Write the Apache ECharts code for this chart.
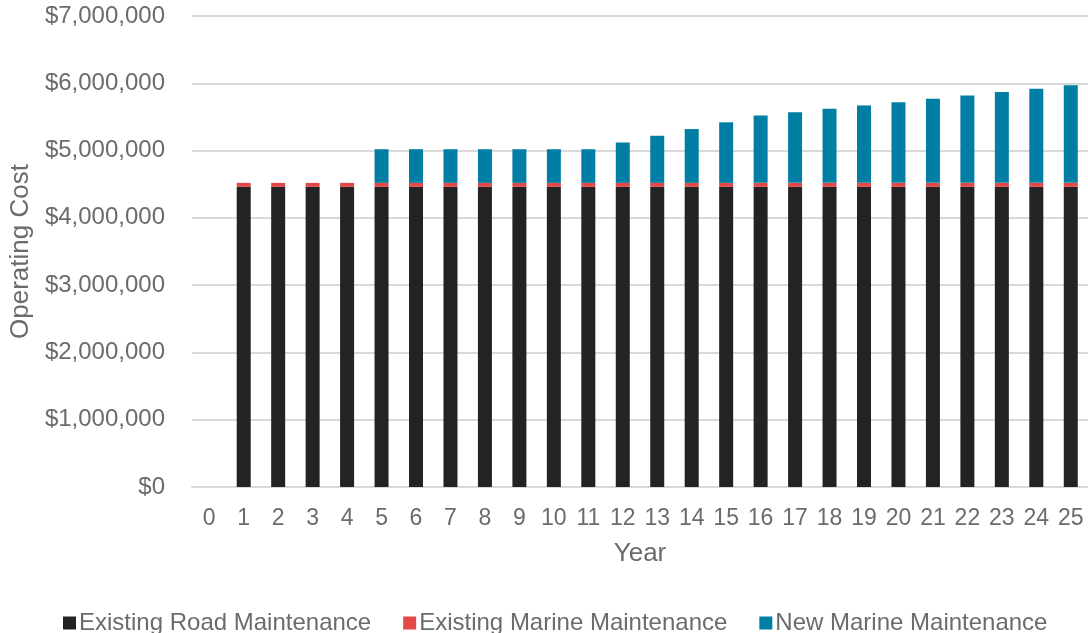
<!DOCTYPE html>
<html>
<head>
<meta charset="utf-8">
<script src="https://cdn.jsdelivr.net/npm/echarts@6/dist/echarts.min.js"></script>
<style>html,body{margin:0;padding:0;background:#fff;}#c{width:1088px;height:633px;}</style>
</head>
<body>
<div id="c"></div>
<script>
const years = ['0','1','2','3','4','5','6','7','8','9','10','11','12','13','14','15','16','17','18','19','20','21','22','23','24','25'];
const existingRoad = [null,4460000,4460000,4460000,4460000,4460000,4460000,4460000,4460000,4460000,4460000,4460000,4460000,4460000,4460000,4460000,4460000,4460000,4460000,4460000,4460000,4460000,4460000,4460000,4460000,4460000];
const existingMarine = [null,60000,60000,60000,60000,60000,60000,60000,60000,60000,60000,60000,60000,60000,60000,60000,60000,60000,60000,60000,60000,60000,60000,60000,60000,60000];
const newMarine = [null,null,null,null,null,500000,500000,500000,500000,500000,500000,500000,600000,700000,800000,900000,1000000,1050000,1100000,1150000,1200000,1250000,1300000,1350000,1400000,1450000];
const seriesNames = ['Existing Road Maintenance','Existing Marine Maintenance','New Marine Maintenance'];

const txt = '#6b6b6b';
const font = 'Liberation Sans, Arial, sans-serif';
const chart = echarts.init(document.getElementById('c'));
chart.setOption({
  animation: false,
  textStyle: {fontFamily: font},
  grid: {left: 190, width: 906, top: 16, height: 471, containLabel: false},
  legend: {
    left: 58, top: 606,
    itemWidth: 13, itemHeight: 13, itemGap: 32,
    icon: 'rect',
    textStyle: {fontSize: 24, color: txt, fontFamily: font, padding: [0,0,0,-2]},
    data: seriesNames
  },
  xAxis: {
    type: 'category', data: years,
    name: 'Year', nameLocation: 'middle', nameGap: 54,
    nameTextStyle: {fontSize: 26, color: txt, fontFamily: font},
    axisLine: {show: true, lineStyle: {color: '#d9d9d9', width: 2}},
    axisTick: {show: false},
    axisLabel: {fontSize: 23, color: txt, margin: 20, interval: 0, fontFamily: font}
  },
  yAxis: {
    type: 'value', min: 0, max: 7000000, interval: 1000000,
    name: 'Operating Cost', nameLocation: 'middle', nameGap: 153, nameRotate: 90,
    nameTextStyle: {fontSize: 26, color: txt, fontFamily: font},
    axisLine: {show: false}, axisTick: {show: false},
    splitLine: {lineStyle: {color: '#d9d9d9', width: 2}},
    axisLabel: {fontSize: 24, color: txt, margin: 27, fontFamily: font,
      formatter: v => '$' + v.toLocaleString('en-US')}
  },
  series: [
    {name: seriesNames[0], type: 'bar', stack: 't', data: existingRoad, barWidth: 14, itemStyle: {color: '#232323'}},
    {name: seriesNames[1], type: 'bar', stack: 't', data: existingMarine, barWidth: 14, itemStyle: {color: '#E24A4A'}},
    {name: seriesNames[2], type: 'bar', stack: 't', data: newMarine, barWidth: 14, itemStyle: {color: '#007EA4'}}
  ]
});
</script>
</body>
</html>
